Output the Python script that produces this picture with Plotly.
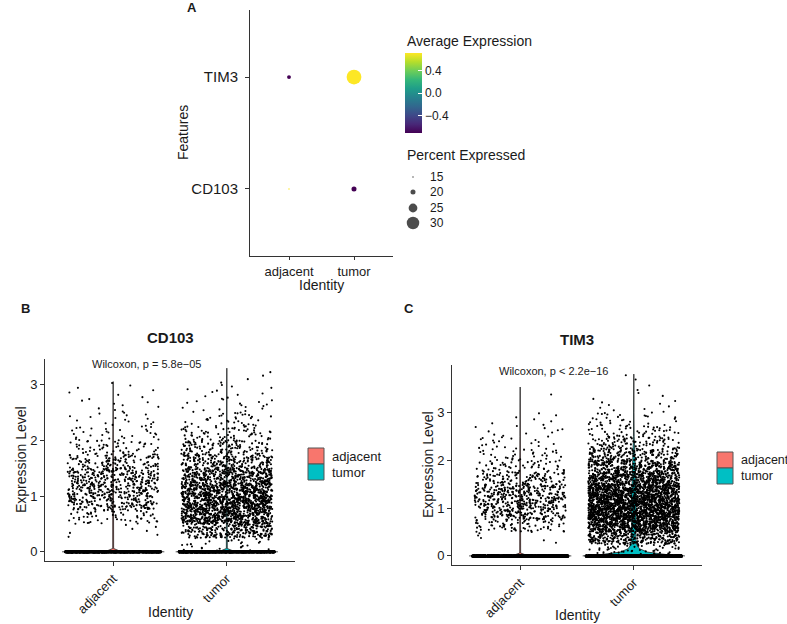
import numpy as np
import plotly.graph_objects as go

W, H = 787, 624
FONT = "Liberation Sans, Arial, sans-serif"
TXT = "#1a1a1a"
AX = "#333333"

# ---------------- Panel A (dot plot) data ----------------
identities = ["adjacent", "tumor"]
features = ["CD103", "TIM3"]
dot_identity = ["adjacent", "tumor", "adjacent", "tumor"]
dot_feature = ["CD103", "CD103", "TIM3", "TIM3"]
avg_exp_scaled = [0.707, -0.707, -0.707, 0.707]
pct_expressed = [13.8, 20.0, 18.5, 33.0]
size_breaks = [15, 20, 25, 30]
color_ticks = [-0.4, 0.0, 0.4]
color_ticktext = ["\u22120.4", "0.0", "0.4"]

# ---------------- Panels B & C (violin + jitter) data ----------------
bin_width = 0.25  # counts of non-zero cells per 0.25-wide expression bin, from 0 upward
cd103_adj_counts = [0, 7, 55, 150, 170, 170, 105, 50, 28, 16, 9, 6, 1]
cd103_tum_counts = [30, 230, 440, 490, 410, 310, 185, 115, 60, 32, 17, 10, 4]
tim3_adj_counts = [0, 5, 65, 140, 165, 155, 95, 52, 30, 18, 11, 6, 0, 1]
tim3_tum_counts = [60, 270, 510, 660, 660, 560, 400, 280, 160, 85, 45, 25, 9, 4, 2, 1]
zero_cells_shown = [700, 700, 700, 700]  # cells at exactly 0 (drawn band)
cd103_max = [3.05, 3.29]
tim3_max = [3.53, 3.80]

# violin half-width profiles (level, half-width in category units)
vln_levels_thin = [0.0, 0.02, 0.06, 0.5, 1.0, 1.5, 2.0, 2.5]  # + group max on top
vln_hw_thin = [0.45, 0.05, 0.004, 0.003, 0.005, 0.004, 0.003, 0.002, 0.0]
tim3_tum_levels = [0.0, 0.03, 0.08, 0.15, 0.25, 0.4, 0.7, 1.0, 1.3, 1.6, 1.9, 2.2, 2.5, 3.0, 3.80]
tim3_tum_hw = [0.45, 0.28, 0.12, 0.05, 0.022, 0.018, 0.02, 0.022, 0.02, 0.017, 0.012, 0.007, 0.003, 0.001, 0.0]

p_texts = ["Wilcoxon, p = 5.8e\u221205", "Wilcoxon, p < 2.2e\u221216"]
group_colors = ["#F8766D", "#00BFC4"]


def px(x):
    return x / W


def py(y):
    return 1 - y / H


fig = go.Figure()

# ---------------- Panel A ----------------
def dot_size(p):
    return max(1.5, 0.75 * (p - 13.3))

fig.add_trace(go.Scatter(
    x=[identities.index(i) + 1 for i in dot_identity],
    y=[features.index(f) + 1 for f in dot_feature],
    mode="markers", xaxis="x", yaxis="y", hoverinfo="skip", showlegend=False,
    marker=dict(size=[dot_size(p) for p in pct_expressed], color=avg_exp_scaled,
                colorscale="Viridis", cmin=-0.707, cmax=0.707, line=dict(width=0),
                opacity=1, showscale=True,
                colorbar=dict(x=px(405), xanchor="left", y=py(53), yanchor="top",
                              len=80, lenmode="pixels", thickness=17, thicknessmode="pixels",
                              xpad=0, ypad=0, outlinewidth=0, tickvals=color_ticks,
                              ticktext=color_ticktext, ticks="inside", tickcolor="white",
                              ticklen=4, tickfont=dict(size=12, color=TXT, family=FONT))),
))

# size legend (drawn in pixel space)
leg_y = [177, 192, 208, 223]
fig.add_trace(go.Scatter(
    x=[413] * len(size_breaks), y=leg_y, mode="markers", xaxis="x4", yaxis="y4",
    hoverinfo="skip", showlegend=False,
    marker=dict(size=[dot_size(b) for b in size_breaks], color="black", line=dict(width=0)),
))

# ---------------- Panels B & C ----------------
_idx = [0]


def jitter01(n):
    """deterministic horizontal jitter in [0, 1) (position only, not data)"""
    i = np.arange(_idx[0], _idx[0] + n, dtype=float)
    _idx[0] += n
    return np.mod(np.sin(i * 12.9898 + 4.1414) * 43758.5453, 1.0)


JIT = 0.4


def add_violin(center, levels, hw, color, xa, ya):
    lv = np.array(levels)
    h = np.array(hw)
    xs = np.concatenate([center + h, (center - h)[::-1]])
    ys = np.concatenate([lv, lv[::-1]])
    fig.add_trace(go.Scatter(x=xs, y=ys, mode="lines", fill="toself", fillcolor=color,
                             line=dict(color="#222222", width=0.8), xaxis=xa, yaxis=ya,
                             hoverinfo="skip", showlegend=False))


def add_cloud(center, counts, vmax, nzero, xa, ya):
    xs, ys = [], []
    for k, n in enumerate(counts):
        if n == 0:
            continue
        lo = k * bin_width
        hi = min((k + 1) * bin_width, vmax)
        u = jitter01(n)
        xs.append(center + (2 * u - 1) * JIT)
        ys.append(lo + (np.arange(n) + 0.5) / n * (hi - lo))
    fig.add_trace(go.Scatter(x=np.concatenate(xs), y=np.concatenate(ys), mode="markers",
                             marker=dict(size=2.1, color="black", line=dict(width=0)),
                             xaxis=xa, yaxis=ya, hoverinfo="skip", showlegend=False))
    u = jitter01(nzero)
    fig.add_trace(go.Scatter(x=center + (2 * u - 1) * (JIT + 0.02), y=np.zeros(nzero), mode="markers",
                             marker=dict(size=3, color="black", line=dict(width=0)),
                             xaxis=xa, yaxis=ya, hoverinfo="skip", showlegend=False))


# Panel B: CD103
add_violin(1, vln_levels_thin + [cd103_max[0]], vln_hw_thin, group_colors[0], "x2", "y2")
add_violin(2, vln_levels_thin + [cd103_max[1]], vln_hw_thin, group_colors[1], "x2", "y2")
add_cloud(1, cd103_adj_counts, cd103_max[0], zero_cells_shown[0], "x2", "y2")
add_cloud(2, cd103_tum_counts, cd103_max[1], zero_cells_shown[1], "x2", "y2")

# Panel C: TIM3
add_violin(1, vln_levels_thin + [tim3_max[0]], vln_hw_thin, group_colors[0], "x3", "y3")
add_violin(2, tim3_tum_levels, tim3_tum_hw, group_colors[1], "x3", "y3")
add_cloud(1, tim3_adj_counts, tim3_max[0], zero_cells_shown[2], "x3", "y3")
add_cloud(2, tim3_tum_counts, tim3_max[1], zero_cells_shown[3], "x3", "y3")


def exp_range(mx):
    return [-0.05 * mx, mx * 1.05]


axis_common = dict(showline=True, linecolor=AX, linewidth=1, ticks="outside",
                   tickcolor=AX, showgrid=False, zeroline=False, fixedrange=True)

layout = dict(
    width=W, height=H, autosize=False, margin=dict(l=0, r=0, t=0, b=0),
    paper_bgcolor="white", plot_bgcolor="rgba(0,0,0,0)", font=dict(family=FONT, color=TXT),
    showlegend=False,
    xaxis=dict(domain=[px(250), px(393)], anchor="y", range=[0.4, 2.6], tickvals=[1, 2],
               ticktext=identities, tickfont=dict(size=13, color=TXT), ticklen=3, **axis_common),
    yaxis=dict(domain=[py(256), py(10)], anchor="x", range=[0.4, 2.6], tickvals=[1, 2],
               ticktext=features, tickfont=dict(size=15, color=TXT), ticklen=4,
               ticklabelstandoff=4, **axis_common),
    xaxis2=dict(domain=[px(45), px(295)], anchor="y2", range=[0.4, 2.6], tickvals=[1, 2],
                ticktext=identities, tickangle=-45, tickfont=dict(size=13, color=TXT), ticklen=4,
                **axis_common),
    yaxis2=dict(domain=[py(561), py(359)], anchor="x2", range=exp_range(max(cd103_max)),
                tickvals=[0, 1, 2, 3], tickfont=dict(size=13, color=TXT), ticklen=4, **axis_common),
    xaxis3=dict(domain=[px(452), px(702)], anchor="y3", range=[0.4, 2.6], tickvals=[1, 2],
                ticktext=identities, tickangle=-45, tickfont=dict(size=13, color=TXT), ticklen=4,
                **axis_common),
    yaxis3=dict(domain=[py(565), py(365)], anchor="x3", range=exp_range(max(tim3_max)),
                tickvals=[0, 1, 2, 3], tickfont=dict(size=13, color=TXT), ticklen=4, **axis_common),
    xaxis4=dict(domain=[0, 1], range=[0, W], visible=False, fixedrange=True, anchor="y4"),
    yaxis4=dict(domain=[0, 1], range=[H, 0], visible=False, fixedrange=True, anchor="x4"),
)
fig.update_layout(**layout)


def ann(text, x, y, size, bold=False, xanchor="center", yanchor="middle", angle=0):
    fig.add_annotation(text=f"<b>{text}</b>" if bold else text, x=px(x), y=py(y),
                       xref="paper", yref="paper", showarrow=False, xanchor=xanchor,
                       yanchor=yanchor, textangle=angle,
                       font=dict(size=size, family=FONT, color=TXT))


# panel letters
ann("A", 192, 8, 13, bold=True)
ann("B", 25, 308, 13, bold=True)
ann("C", 409, 308, 13, bold=True)

# Panel A titles and legends
ann("Features", 183, 133, 14, angle=-90)
ann("Identity", 321, 285, 14)
ann("Average Expression", 405, 41, 14, xanchor="left")
ann("Percent Expressed", 405, 155, 14, xanchor="left")
for b, yy in zip(size_breaks, leg_y):
    ann(str(b), 428, yy, 12, xanchor="left")

# Panel B
ann("CD103", 170, 337, 15, bold=True)
ann(p_texts[0], 146, 364, 11)
ann("Expression Level", 21, 460, 14, angle=-90)
ann("Identity", 170, 612, 14)

# Panel C
ann("TIM3", 577, 340, 15, bold=True)
ann(p_texts[1], 553, 371, 11)
ann("Expression Level", 428, 465, 14, angle=-90)
ann("Identity", 577, 615, 14)

# group legends (B and C)
for (bx, by0, fs) in [(308, 448, 13), (717, 452, 12.5)]:
    for k, name in enumerate(identities):
        y0 = by0 + k * 16
        fig.add_shape(type="rect", xref="paper", yref="paper", x0=px(bx), x1=px(bx + 16),
                      y0=py(y0), y1=py(y0 + 16), fillcolor=group_colors[k],
                      line=dict(color="#555555", width=1))
        ann(name, bx + 22, y0 + 8, fs, xanchor="left")

fig.write_html("out.html")
